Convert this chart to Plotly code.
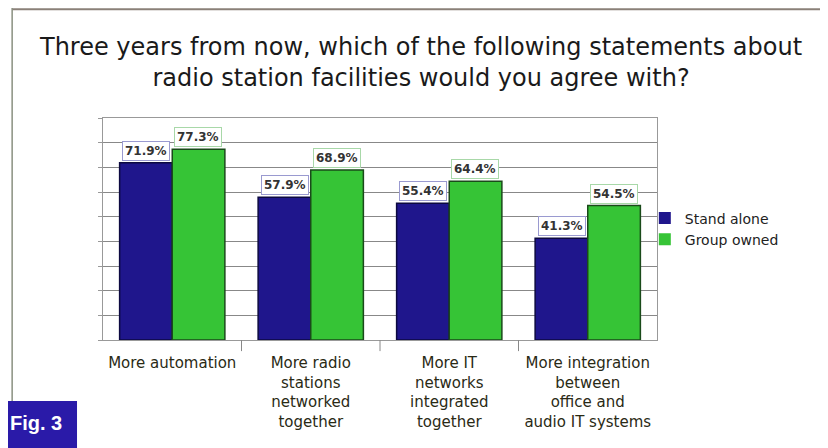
import plotly.graph_objects as go

categories = ["More automation",
              "More radio<br>stations<br>networked<br>together",
              "More IT<br>networks<br>integrated<br>together",
              "More integration<br>between<br>office and<br>audio IT systems"]
stand_alone = [71.9, 57.9, 55.4, 41.3]
group_owned = [77.3, 68.9, 64.4, 54.5]
series_names = ["Stand alone", "Group owned"]
title_text = ("Three years from now, which of the following statements about<br>"
              "radio station facilities would you agree with?")

blue = "#1f168c"
green = "#36c436"
font = "DejaVu Sans"

fig = go.Figure()
fig.add_trace(go.Bar(x=categories, y=stand_alone, name=series_names[0], showlegend=False,
                     marker=dict(color=blue, line=dict(color="#0c0940", width=1.5))))
fig.add_trace(go.Bar(x=categories, y=group_owned, name=series_names[1], showlegend=False,
                     marker=dict(color=green, line=dict(color="#1a4a1a", width=1.5))))
# legend entries with small square swatches
for nm, col in zip(series_names, [blue, green]):
    fig.add_trace(go.Scatter(x=[None], y=[None], mode="markers", name=nm,
                             marker=dict(symbol="square", size=12, color=col)))

# value labels in little white boxes above each bar
for series, shift, bc in [(stand_alone, -26, "#9a9ad0"), (group_owned, 26, "#a8d8a8")]:
    for c, v in zip(categories, series):
        fig.add_annotation(x=c, y=v, xshift=shift, yshift=12, text="<b>%.1f%%</b>" % v,
                           showarrow=False, bgcolor="white", bordercolor=bc, borderwidth=1,
                           borderpad=2, font=dict(family=font, size=12, color="#333333"))

# page body has an 8px margin, so the figure is 8px smaller each way
fig.update_layout(
    width=820, height=440,
    margin=dict(l=95, r=171, t=110, b=108, autoexpand=False),
    paper_bgcolor="white", plot_bgcolor="white",
    barmode="group", bargap=0.24, bargroupgap=0,
    font=dict(family=font, color="#222222"),
    xaxis=dict(showline=True, linecolor="#999999", mirror=True, automargin=False,
               ticks="outside", ticklen=9, tickcolor="rgba(0,0,0,0)",
               tickfont=dict(family=font, size=15, color="#2a2a15")),
    yaxis=dict(range=[0, 90], dtick=10, showticklabels=False, showgrid=True, automargin=False,
               gridcolor="#888888", gridwidth=1, showline=True, linecolor="#999999",
               mirror=True, zeroline=False, ticks="outside", ticklen=4, tickcolor="#999999"),
    legend=dict(x=0.978, y=0.50, xanchor="left", yanchor="middle",
                font=dict(family=font, size=14, color="#222222"),
                itemwidth=30, tracegroupgap=0, bgcolor="rgba(0,0,0,0)"),
)

# title
fig.add_annotation(xref="paper", yref="paper", x=0.574, y=1.248, xanchor="center", yanchor="middle",
                   text=title_text, showarrow=False,
                   font=dict(family=font, size=24, color="#1a1a1a"))

# category boundary ticks below the axis
for i in range(1, len(categories)):
    fig.add_shape(type="line", xref="x", yref="paper", x0=i - 0.5, x1=i - 0.5,
                  y0=0, y1=-0.05, line=dict(color="#888888", width=1))

# page frame
fig.add_shape(type="line", xref="paper", yref="paper", x0=-0.164, x1=1.31, y0=1.49, y1=1.49,
              line=dict(color="#8a8078", width=2))
fig.add_shape(type="line", xref="paper", yref="paper", x0=-0.164, x1=-0.164, y0=1.495, y1=-0.275,
              line=dict(color="#8a9080", width=1.5))

# Fig. 3 tab
fig.add_shape(type="rect", xref="paper", yref="paper", x0=-0.19, x1=-0.0469, y0=-0.275, y1=-0.49,
              fillcolor="#2a1aa8", line=dict(width=0))
fig.add_annotation(xref="paper", yref="paper", x=-0.121, y=-0.374, xanchor="center", yanchor="middle",
                   text="<b>Fig. 3</b>", showarrow=False,
                   font=dict(family="Liberation Sans", size=20, color="white"))

fig.write_html("out.html")
